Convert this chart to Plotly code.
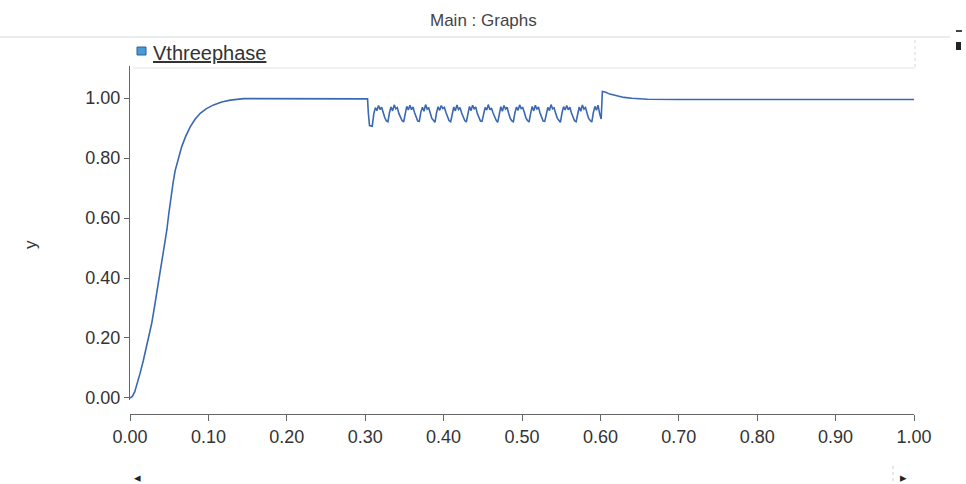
import plotly.graph_objects as go

# ---------------- data ----------------
rise_t = [0.000, 0.003, 0.006, 0.009, 0.0128, 0.017, 0.0213, 0.0245, 0.0277, 0.031,
          0.034, 0.0375, 0.0405, 0.044, 0.047, 0.0495, 0.052, 0.055, 0.0576, 0.062,
          0.066, 0.071, 0.0768, 0.083, 0.0896, 0.097, 0.1066, 0.117, 0.128, 0.145,
          0.160, 0.200, 0.250, 0.300, 0.303]
rise_v = [0.000, 0.005, 0.020, 0.045, 0.082, 0.125, 0.171, 0.210, 0.249, 0.300,
          0.349, 0.400, 0.449, 0.505, 0.560, 0.615, 0.671, 0.718, 0.758, 0.803,
          0.838, 0.872, 0.904, 0.929, 0.949, 0.964, 0.977, 0.987, 0.993, 0.998,
          0.998, 0.998, 0.998, 0.998, 0.997]

fault_t = [0.304, 0.3055, 0.309]
fault_v = [0.950, 0.908, 0.906]

osc_t = [
    0.311, 0.313, 0.315, 0.317, 0.319, 0.321, 0.323, 0.325, 0.327, 0.329,
    0.331, 0.333, 0.335, 0.337, 0.339, 0.341, 0.343, 0.345, 0.347, 0.349,
    0.351, 0.353, 0.355, 0.357, 0.359, 0.361, 0.363, 0.365, 0.367, 0.369,
    0.371, 0.373, 0.375, 0.377, 0.379, 0.381, 0.383, 0.385, 0.387, 0.389,
    0.391, 0.393, 0.395, 0.397, 0.399, 0.401, 0.403, 0.405, 0.407, 0.409,
    0.411, 0.413, 0.415, 0.417, 0.419, 0.421, 0.423, 0.425, 0.427, 0.429,
    0.431, 0.433, 0.435, 0.437, 0.439, 0.441, 0.443, 0.445, 0.447, 0.449,
    0.451, 0.453, 0.455, 0.457, 0.459, 0.461, 0.463, 0.465, 0.467, 0.469,
    0.471, 0.473, 0.475, 0.477, 0.479, 0.481, 0.483, 0.485, 0.487, 0.489,
    0.491, 0.493, 0.495, 0.497, 0.499, 0.501, 0.503, 0.505, 0.507, 0.509,
    0.511, 0.513, 0.515, 0.517, 0.519, 0.521, 0.523, 0.525, 0.527, 0.529,
    0.531, 0.533, 0.535, 0.537, 0.539, 0.541, 0.543, 0.545, 0.547, 0.549,
    0.551, 0.553, 0.555, 0.557, 0.559, 0.561, 0.563, 0.565, 0.567, 0.569,
    0.571, 0.573, 0.575, 0.577, 0.579, 0.581, 0.583, 0.585, 0.587, 0.589,
    0.591, 0.593, 0.595, 0.597, 0.599, 0.601,
]
osc_v = [
    0.948, 0.968, 0.958, 0.975, 0.962, 0.969, 0.950, 0.934, 0.924, 0.921,
    0.952, 0.970, 0.957, 0.977, 0.964, 0.968, 0.948, 0.933, 0.925, 0.920,
    0.950, 0.972, 0.960, 0.976, 0.961, 0.970, 0.951, 0.935, 0.923, 0.922,
    0.953, 0.969, 0.956, 0.978, 0.963, 0.967, 0.949, 0.932, 0.926, 0.919,
    0.951, 0.971, 0.959, 0.975, 0.965, 0.969, 0.952, 0.934, 0.924, 0.921,
    0.949, 0.970, 0.957, 0.977, 0.962, 0.968, 0.950, 0.936, 0.925, 0.920,
    0.952, 0.972, 0.958, 0.976, 0.964, 0.970, 0.948, 0.933, 0.923, 0.922,
    0.950, 0.969, 0.960, 0.978, 0.961, 0.967, 0.951, 0.935, 0.926, 0.919,
    0.953, 0.971, 0.956, 0.975, 0.963, 0.969, 0.949, 0.932, 0.924, 0.921,
    0.951, 0.970, 0.959, 0.977, 0.965, 0.968, 0.952, 0.934, 0.925, 0.920,
    0.949, 0.972, 0.957, 0.976, 0.962, 0.970, 0.950, 0.936, 0.923, 0.922,
    0.952, 0.969, 0.958, 0.978, 0.964, 0.967, 0.948, 0.933, 0.926, 0.919,
    0.950, 0.971, 0.960, 0.975, 0.961, 0.969, 0.951, 0.935, 0.924, 0.921,
    0.953, 0.970, 0.956, 0.977, 0.963, 0.968, 0.949, 0.932, 0.925, 0.920,
    0.951, 0.972, 0.959, 0.976, 0.948, 0.930,
]

recov_t = [0.6025, 0.606, 0.612, 0.620, 0.630, 0.640, 0.660, 0.700, 0.800, 0.900, 1.000]
recov_v = [1.022, 1.020, 1.013, 1.007, 1.002, 0.999, 0.996, 0.995, 0.995, 0.995, 0.995]

t = rise_t + fault_t + osc_t + recov_t
v = rise_v + fault_v + osc_v + recov_v

x_ticks = [0.0, 0.1, 0.2, 0.3, 0.4, 0.5, 0.6, 0.7, 0.8, 0.9, 1.0]
y_ticks = [0.0, 0.2, 0.4, 0.6, 0.8, 1.0]
series_name = "Vthreephase"
title_text = "Main : Graphs"

# ---------------- layout helpers ----------------
W, H = 966, 484
L, R, T, B = 130, 52, 66, 70
PW, PH = W - L - R, H - T - B


def px(X):
    return (X - L) / PW


def py(Y):
    return (H - B - Y) / PH


FONT = "Liberation Sans Narrow, Arial Narrow, Liberation Sans, Arial, sans-serif"

fig = go.Figure()
fig.add_trace(go.Scatter(
    x=t, y=v, mode="lines", name=series_name, showlegend=False,
    line=dict(color="#3a68b2", width=1.6),
))

fig.update_layout(
    width=W, height=H,
    margin=dict(l=L, r=R, t=T, b=B),
    paper_bgcolor="white", plot_bgcolor="white",
    font=dict(family=FONT, size=17, color="#333333"),
    xaxis=dict(
        range=[0, 1], tickvals=x_ticks, ticktext=[f"{x:.2f}" for x in x_ticks],
        anchor="free", position=0, showgrid=False, zeroline=False,
        showline=True, linecolor="#666666", linewidth=1,
        ticks="outside", ticklen=6, tickcolor="#666666",
        tickfont=dict(family=FONT, size=18, color="#333333"),
    ),
    yaxis=dict(
        domain=[py(400), 1], range=[-0.0067, 1.1067],
        tickvals=y_ticks, ticktext=[f"{y:.2f}" for y in y_ticks],
        showgrid=False, zeroline=False,
        showline=True, linecolor="#666666", linewidth=1,
        ticks="outside", ticklen=5, tickcolor="#666666",
        tickfont=dict(family=FONT, size=18, color="#333333"),
    ),
)

shapes = [
    # separator under title
    dict(type="line", xref="paper", yref="paper", x0=px(0), x1=px(950), y0=py(37), y1=py(37),
         line=dict(color="#d2dada", width=1)),
    # legend box right and bottom border
    dict(type="line", xref="paper", yref="paper", x0=px(915), x1=px(915), y0=py(40), y1=py(68),
         line=dict(color="#d5dada", width=1, dash="dot")),
    dict(type="line", xref="paper", yref="paper", x0=px(133), x1=px(915), y0=py(68), y1=py(68),
         line=dict(color="#e2e6e6", width=1)),
    # legend swatch
    dict(type="rect", xref="paper", yref="paper", x0=px(137), x1=px(146), y0=py(55), y1=py(47),
         fillcolor="#4a9ad8", line=dict(color="#2c5e9a", width=1)),
    # right-side widgets
    dict(type="rect", xref="paper", yref="paper", x0=px(956), x1=px(961), y0=py(50), y1=py(42),
         fillcolor="#222222", line=dict(width=0)),
    dict(type="line", xref="paper", yref="paper", x0=px(956), x1=px(962), y0=py(31), y1=py(31),
         line=dict(color="#444444", width=2)),
    # bottom scrollbar hint
    dict(type="line", xref="paper", yref="paper", x0=px(893), x1=px(893), y0=py(466), y1=py(484),
         line=dict(color="#c8d4d8", width=1, dash="dot")),
]
fig.update_layout(shapes=shapes)

annotations = [
    dict(text=title_text, x=px(483), y=py(20), xref="paper", yref="paper",
         showarrow=False, xanchor="center", yanchor="middle",
         font=dict(family=FONT, size=17, color="#444444")),
    dict(text="<u>" + series_name + "</u>", x=px(151), y=py(53), xref="paper", yref="paper",
         showarrow=False, xanchor="left", yanchor="middle",
         font=dict(family=FONT, size=20, color="#333333")),
    dict(text="y", x=px(30), y=py(245), xref="paper", yref="paper", textangle=-90,
         showarrow=False, xanchor="center", yanchor="middle",
         font=dict(family=FONT, size=17, color="#333333")),
    dict(text="◂", x=px(137), y=py(477), xref="paper", yref="paper",
         showarrow=False, xanchor="center", yanchor="middle",
         font=dict(size=13, color="#222222")),
    dict(text="▸", x=px(903), y=py(477), xref="paper", yref="paper",
         showarrow=False, xanchor="center", yanchor="middle",
         font=dict(size=13, color="#222222")),
]
fig.update_layout(annotations=annotations)

fig.write_html(
    "out.html",
    config={"displayModeBar": False},
    post_script="document.body.style.margin='0';document.body.style.overflow='hidden';",
)
